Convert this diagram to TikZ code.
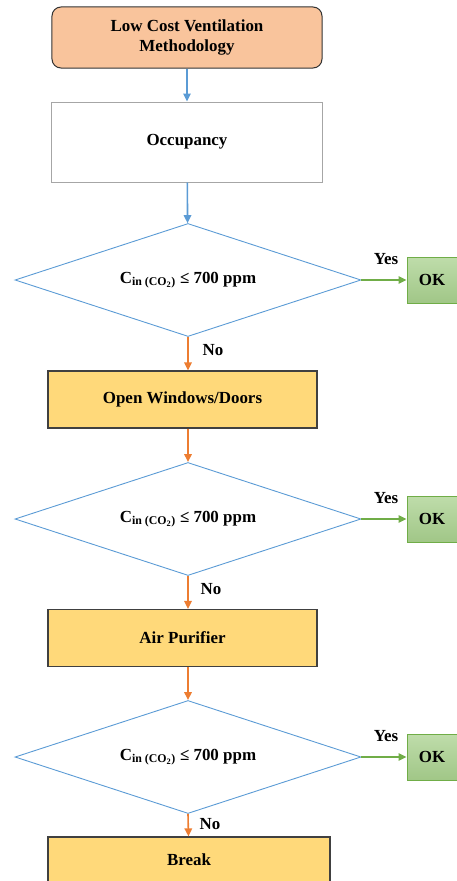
\documentclass[tikz,border=0pt]{standalone}
\usepackage{fontspec}
\setmainfont{Liberation Serif}
\usetikzlibrary{shapes,arrows,positioning,calc,arrows.meta}
\definecolor{peach}{HTML}{F9C49C}
\definecolor{boxyellow}{HTML}{FFD97A}
\definecolor{flowblue}{HTML}{5B9BD5}
\definecolor{floworange}{HTML}{ED7D31}
\definecolor{flowgreen}{HTML}{70AD47}
\definecolor{okgreen}{HTML}{A9D18E}

\begin{document}
\begin{tikzpicture}[
    x=1bp, y=-1bp,
    every node/.style={font=\fontsize{17}{20}\selectfont\bfseries},
    startbox/.style={draw=black!80, fill=peach, rounded corners=9bp, line width=1bp,
        minimum width=270bp, minimum height=61bp, align=center},
    occbox/.style={draw=black!35, fill=white, line width=1bp, minimum width=270bp, minimum height=80bp},
    actbox/.style={draw=black!75, fill=boxyellow, line width=1.2bp, minimum width=269bp, minimum height=57bp},
    decbox/.style={diamond, draw=flowblue, line width=0.9bp, inner sep=0pt, aspect=3.06,
        minimum width=346bp, minimum height=113bp},
    okbox/.style={draw=flowgreen, top color=okgreen!75, bottom color=okgreen!95!black,
        line width=1bp, minimum width=50bp, minimum height=46bp},
    flowarr/.style={-{Triangle[length=8bp,width=7.5bp]}, line width=1.6bp}
]
    \useasboundingbox (0,0) rectangle (457,881);

    \node[startbox] (start) at (187,37.5) {Low Cost Ventilation\\Methodology};
    \node[occbox] (occ) at (187,142) {Occupancy};

    % three checks on the CO2 level
    \foreach \n/\y in {1/280, 2/519, 3/757} {
        \node[decbox] (dec\n) at (188,\y) {C\textsubscript{in (CO\textsubscript{2})} ≤ 700 ppm};
        \node[okbox] (ok\n) at (432,\y) {OK};
        \draw[flowarr, flowgreen] (dec\n.east) -- (ok\n.west);
        \node at (386,\y-21) {Yes};
    }

    \node[actbox] (win) at (182.5,399.5) {Open Windows/Doors};
    \node[actbox] (air) at (182.5,638) {Air Purifier};
    \node[actbox, minimum width=282bp, minimum height=46bp] (brk) at (189,860) {Break};

    \draw[flowarr, flowblue] (start) -- (occ);
    \draw[flowarr, flowblue] (occ) -- (dec1);
    \draw[flowarr, floworange] (dec1.south) -- (dec1.south |- win.north);
    \draw[flowarr, floworange] (dec2.north |- win.south) -- (dec2.north);
    \draw[flowarr, floworange] (dec2.south) -- (dec2.south |- air.north);
    \draw[flowarr, floworange] (dec3.north |- air.south) -- (dec3.north);
    \draw[flowarr, floworange] (dec3.south) -- (brk);

    \node at (213,350) {No};
    \node at (211,589) {No};
    \node at (210,824) {No};
\end{tikzpicture}
\end{document}
